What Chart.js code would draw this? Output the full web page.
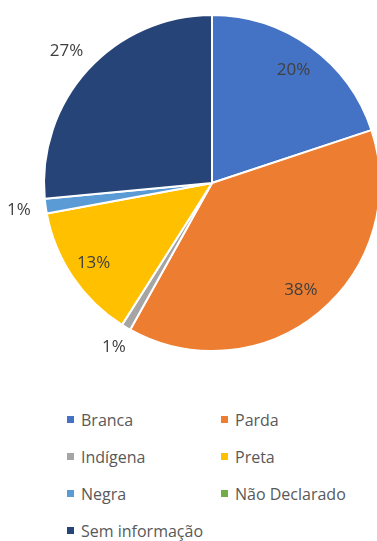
<!DOCTYPE html>
<html>
<head>
<meta charset="utf-8">
<script src="https://cdn.jsdelivr.net/npm/chart.js@4"></script>
<style>
  html, body { margin: 0; padding: 0; background: #fff; overflow: hidden; width: 377px; height: 541px; }
  #wrap { position: absolute; left: 0; top: 0; width: 424px; height: 368px; }
  #legend { position: absolute; left: 0; top: 410px; width: 377px; font-family: "Open Sans", sans-serif; font-size: 16px; color: #595959; }
  .item { position: absolute; white-space: nowrap; line-height: 20px; }
  .item span.box { display: inline-block; width: 7px; height: 7px; margin-right: 7px; vertical-align: 3px; }
</style>
</head>
<body>
<div id="wrap"><canvas id="myChart"></canvas></div>
<div id="legend"></div>
<script>
const labels = ['Branca', 'Parda', 'Indígena', 'Preta', 'Negra', 'Não Declarado', 'Sem informação'];
const values = [19.9, 38.2, 0.9, 13.1, 1.4, 0, 26.5];
const colors = ['#4472C4', '#ED7D31', '#A5A5A5', '#FFC000', '#5B9BD5', '#70AD47', '#264478'];

// where each percentage label sits, as a fraction of the radius
const labelRadius = [0.83, 0.83, 1.14, 0.85, 1.16, null, 1.17];

const pctLabels = {
    id: 'pctLabels',
    afterDatasetsDraw(chart) {
        const ctx = chart.ctx;
        const total = values.reduce((a, b) => a + b, 0);
        chart.getDatasetMeta(0).data.forEach((arc, i) => {
            if (!values[i] || labelRadius[i] == null) return;
            const p = arc.getProps(['x', 'y', 'startAngle', 'endAngle', 'outerRadius'], true);
            const mid = (p.startAngle + p.endAngle) / 2;
            const r = p.outerRadius * labelRadius[i];
            ctx.save();
            ctx.font = '17px "Open Sans", sans-serif';
            ctx.fillStyle = '#404040';
            ctx.textAlign = 'center';
            ctx.textBaseline = 'middle';
            ctx.fillText(Math.round(values[i] / total * 100) + '%', p.x + Math.cos(mid) * r, p.y + Math.sin(mid) * r);
            ctx.restore();
        });
    }
};

document.addEventListener("DOMContentLoaded", function () {
    const data = {
        labels: labels,
        datasets: [{
            data: values,
            backgroundColor: colors,
            borderColor: '#ffffff',
            borderWidth: 2
        }]
    };
    const config = {
        type: 'pie',
        data: data,
        options: {
            responsive: true,
            maintainAspectRatio: false,
            animation: false,
            layout: { padding: { top: 14, bottom: 16, left: 14, right: 14 } },
            plugins: {
                legend: { display: false },
                tooltip: { enabled: false }
            }
        },
        plugins: [pctLabels]
    };
    var myChart = new Chart(document.getElementById('myChart'), config);

    // legend in two columns, like the original
    const legend = document.getElementById('legend');
    labels.forEach((name, i) => {
        const el = document.createElement('div');
        el.className = 'item';
        el.style.left = (i % 2 === 0 ? 67 : 221) + 'px';
        el.style.top = (Math.floor(i / 2) * 37) + 'px';
        el.innerHTML = '<span class="box" style="background:' + colors[i] + '"></span>' + name;
        legend.appendChild(el);
    });
});
</script>
</body>
</html>
